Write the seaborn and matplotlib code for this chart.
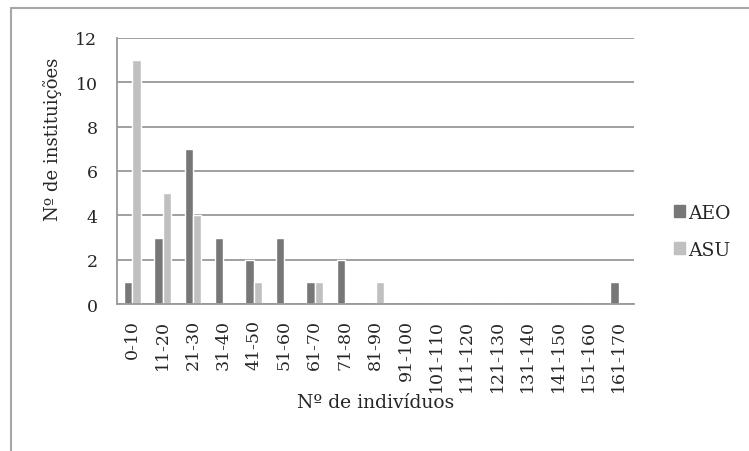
import pandas as pd
import numpy as np
import matplotlib.pyplot as plt
import matplotlib.patches as mpatches
import seaborn as sns

categories = ['0-10', '11-20', '21-30', '31-40', '41-50', '51-60', '61-70', '71-80', '81-90',
              '91-100', '101-110', '111-120', '121-130', '131-140', '141-150', '151-160', '161-170']
aeo = [1, 3, 7, 3, 2, 3, 1, 2, 0, 0, 0, 0, 0, 0, 0, 0, 1]
asu = [11, 5, 4, 0, 1, 0, 1, 0, 1, 0, 0, 0, 0, 0, 0, 0, 0]
series = ['AEO', 'ASU']
colors = ['#777777', '#c0c0c0']

if __name__ == '__main__':
    sns.set_style("white")
    plt.rcParams["font.family"] = ["DejaVu Serif"]
    plt.rcParams["font.size"] = 13

    df = pd.DataFrame({'cat': categories * 2,
                       'val': aeo + asu,
                       'serie': ['AEO'] * len(aeo) + ['ASU'] * len(asu)})

    fig = plt.figure(figsize=(7.49, 4.52), dpi=100)
    # plot area: x 117..634 px, y 39..305 px
    ax = fig.add_axes([117 / 749, 1 - 305 / 452, 517 / 749, 266 / 452])

    sns.barplot(data=df, x='cat', y='val', hue='serie', order=categories, hue_order=series,
                palette=colors, width=0.55, saturation=1, ax=ax, legend=False)

    ax.set_ylim(0, 12)
    ax.set_xlim(-0.5, len(categories) - 0.5)
    ax.set_yticks(range(0, 13, 2))
    ax.yaxis.grid(True, color='#999999', linewidth=1.3)
    ax.set_axisbelow(True)
    for s in ['top', 'right']:
        ax.spines[s].set_visible(False)
    for s in ['left', 'bottom']:
        ax.spines[s].set_color('#999999')
        ax.spines[s].set_linewidth(1.3)
    ax.tick_params(axis='y', length=5, color='#999999', width=1.3, pad=9, labelsize=12.5)
    ax.tick_params(axis='x', length=0, pad=11, labelsize=12.5, rotation=90)
    ax.set_xlabel('Nº de indivíduos', fontsize=13.5, va='top')
    ax.xaxis.set_label_coords(0.5, -0.335)
    ax.set_ylabel('Nº de instituições', fontsize=13, va='center')
    ax.yaxis.set_label_coords(-0.124, 0.624)

    handles = [mpatches.Patch(color=c, label=s) for c, s in zip(colors, series)]
    fig.legend(handles=handles, loc='center left', bbox_to_anchor=(0.900, 0.486), frameon=False,
               handlelength=0.6, handleheight=0.6, handletextpad=0.15, labelspacing=1.0,
               fontsize=13.5, borderpad=0, borderaxespad=0)

    # outer chart border (right and bottom edges fall outside the picture)
    fig.patches.append(mpatches.Rectangle((11 / 749, -0.05), 1.1, 1.05 - 9 / 452,
                                          transform=fig.transFigure, fill=False,
                                          edgecolor='#a6a6a6', linewidth=1.5))

    fig.savefig('out.png', dpi=100)
